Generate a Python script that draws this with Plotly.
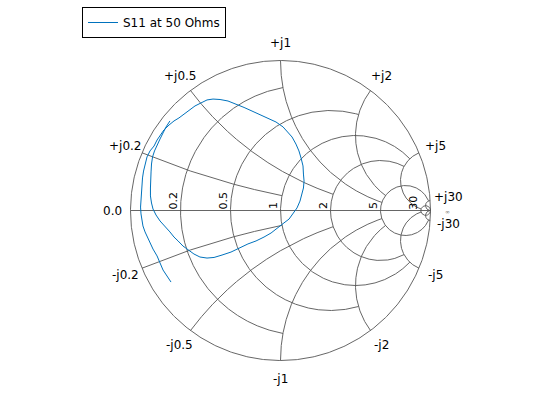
import numpy as np
import plotly.graph_objects as go

# Smith chart grid values (circle values and their arc endpoints)
grid_values = [0.2, 0.5, 1, 2, 5, 30]
grid_endpoints = [1, 2, 5, 5, 30, np.inf]
resist_labels = ["0.2", "0.5", "1", "2", "5", "30"]
react_pos_labels = ["+j0.2", "+j0.5", "+j1", "+j2", "+j5", "+j30"]
react_neg_labels = ["-j0.2", "-j0.5", "-j1", "-j2", "-j5", "-j30"]

s11_re = [-0.730, -0.757, -0.783, -0.803, -0.823, -0.850, -0.870, -0.890, -0.903, -0.917,
          -0.923, -0.930, -0.933, -0.930, -0.927, -0.923, -0.920, -0.913, -0.903, -0.890,
          -0.870, -0.843, -0.823, -0.803, -0.777, -0.743, -0.710, -0.677, -0.643, -0.610,
          -0.570, -0.530, -0.490, -0.450, -0.403, -0.350, -0.297, -0.243, -0.190, -0.137,
          -0.083, -0.030, 0.017, 0.050, 0.077, 0.103, 0.123, 0.137, 0.150, 0.153,
          0.157, 0.153, 0.143, 0.130, 0.110, 0.083, 0.057, 0.023, -0.017, -0.063,
          -0.110, -0.163, -0.217, -0.270, -0.330, -0.390, -0.443, -0.490, -0.537, -0.577,
          -0.617, -0.650, -0.683, -0.710, -0.737, -0.770, -0.803, -0.830, -0.850, -0.860,
          -0.867, -0.867, -0.863, -0.863, -0.860, -0.853, -0.840, -0.823, -0.803, -0.783,
          -0.763, -0.737]
s11_im = [-0.477, -0.437, -0.397, -0.350, -0.303, -0.257, -0.217, -0.177, -0.143, -0.103,
          -0.070, -0.023, 0.023, 0.070, 0.123, 0.170, 0.217, 0.263, 0.310, 0.357,
          0.397, 0.430, 0.470, 0.503, 0.537, 0.570, 0.597, 0.617, 0.643, 0.670,
          0.697, 0.717, 0.737, 0.743, 0.740, 0.730, 0.710, 0.687, 0.663, 0.640,
          0.617, 0.590, 0.557, 0.523, 0.490, 0.443, 0.397, 0.350, 0.297, 0.243,
          0.197, 0.150, 0.103, 0.063, 0.017, -0.023, -0.057, -0.083, -0.117, -0.150,
          -0.177, -0.203, -0.223, -0.247, -0.277, -0.297, -0.313, -0.317, -0.310, -0.290,
          -0.263, -0.237, -0.203, -0.177, -0.143, -0.110, -0.070, -0.030, 0.010, 0.050,
          0.097, 0.150, 0.203, 0.257, 0.310, 0.357, 0.397, 0.437, 0.477, 0.517,
          0.557, 0.597]

GRID = "rgb(85,85,85)"
BLUE = "#0072BD"
FONT = "DejaVu Sans"


def gamma(z):
    return (z - 1) / (z + 1)


def param(e, n=1500):
    if np.isinf(e):
        return np.tan(np.linspace(0, np.pi / 2 * 0.99999, n))
    return np.linspace(0, e, n)


gx, gy = [], []


def add(g):
    gx.extend(list(g.real) + [None])
    gy.extend(list(g.imag) + [None])


# outer circle and real axis
t = np.linspace(0, 2 * np.pi, 721)
add(np.exp(1j * t))
add(np.array([-1 + 0j, 1 + 0j]))

for v, e in zip(grid_values, grid_endpoints):
    xs = param(e)
    xs = np.concatenate([-xs[::-1], xs[1:]])
    add(gamma(v + 1j * xs))  # constant resistance circle
    rs = param(e)
    add(gamma(rs + 1j * v))  # +reactance arc
    add(gamma(rs - 1j * v))  # -reactance arc

fig = go.Figure()
fig.add_trace(go.Scatter(x=gx, y=gy, mode="lines", line=dict(color=GRID, width=0.9),
                         hoverinfo="skip", showlegend=False))
fig.add_trace(go.Scatter(x=s11_re, y=s11_im, mode="lines", line=dict(color=BLUE, width=1),
                         name="S11 at 50 Ohms"))

ann = []
LR = 1.12
for i, (v, lp, ln) in enumerate(zip(grid_values, react_pos_labels, react_neg_labels)):
    th = np.pi - 2 * np.arctan(v)
    sh = 2 if i == len(grid_values) - 1 else 0
    ann.append(dict(x=LR * np.cos(th), y=LR * np.sin(th), text=lp, showarrow=False, yshift=sh,
                    xanchor="center", yanchor="middle", font=dict(size=12, color="black", family=FONT)))
    ann.append(dict(x=LR * np.cos(th), y=-LR * np.sin(th), text=ln, showarrow=False, yshift=-sh,
                    xanchor="center", yanchor="middle", font=dict(size=12, color="black", family=FONT)))
ann.append(dict(x=-LR, y=0, text="0.0", showarrow=False, xanchor="center", yanchor="middle",
                font=dict(size=12, color="black", family=FONT)))
for v, lab in zip(grid_values, resist_labels):
    ann.append(dict(x=(v - 1) / (v + 1), y=0, text=lab, showarrow=False, textangle=-90,
                    xanchor="right", yanchor="bottom", xshift=1, yshift=-1,
                    font=dict(size=11, color="black", family=FONT)))
ann.append(dict(x=1.11, y=-0.005, text="∞", showarrow=False, xanchor="center", yanchor="middle",
                borderpad=0, font=dict(size=6, color="rgb(120,120,120)", family=FONT)))

W, H = 560, 420
cx, cy, R = 280.5, 210.5, 150.0
fig.update_layout(
    width=W, height=H, margin=dict(l=0, r=0, t=0, b=0),
    paper_bgcolor="white", plot_bgcolor="white",
    xaxis=dict(range=[-cx / R, (W - cx) / R], visible=False, fixedrange=True),
    yaxis=dict(range=[-(H - cy) / R, cy / R], visible=False, fixedrange=True),
    annotations=ann,
    showlegend=True,
    legend=dict(x=82 / W, y=1 - 7 / H, xanchor="left", yanchor="top",
                bordercolor="black", borderwidth=1, bgcolor="white",
                font=dict(size=12, color="black", family=FONT),
                tracegroupgap=0, itemwidth=30),
    font=dict(family=FONT),
)

fig.write_html("out.html", include_plotlyjs=True, config={"displayModeBar": False},
               post_script="document.body.style.margin='0';document.body.style.overflow='hidden';")
